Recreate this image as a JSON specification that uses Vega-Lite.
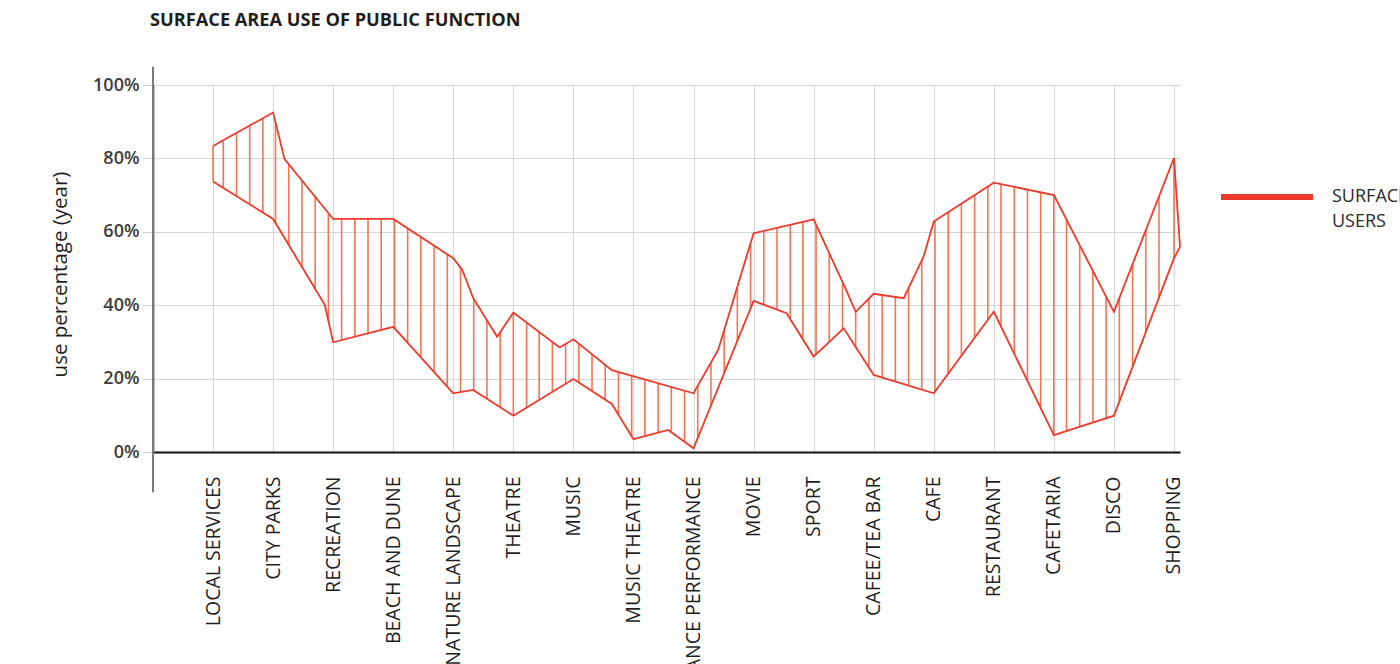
{
  "$schema": "https://vega.github.io/schema/vega-lite/v6.json",
  "autosize": "none",
  "width": 1027,
  "height": 367,
  "padding": {"left": 153, "top": 85, "right": 220, "bottom": 212},
  "background": "white",
  "config": {
    "view": {"stroke": null},
    "font": "Open Sans"
  },
  "title": {
    "text": "SURFACE AREA USE OF PUBLIC FUNCTION",
    "anchor": "start",
    "frame": "group",
    "offset": 35,
    "dx": -3,
    "font": "Open Sans",
    "fontSize": 18.2,
    "fontWeight": "bold",
    "color": "#1e1e1e"
  },
  "datasets": {
    "lines": [
      {"series": "SURFACE AREA", "pos": 0, "pct": 83.4},
      {"series": "SURFACE AREA", "pos": 1, "pct": 92.5},
      {"series": "SURFACE AREA", "pos": 1.19, "pct": 79.8},
      {"series": "SURFACE AREA", "pos": 2, "pct": 63.5},
      {"series": "SURFACE AREA", "pos": 3, "pct": 63.5},
      {"series": "SURFACE AREA", "pos": 4, "pct": 52.8},
      {"series": "SURFACE AREA", "pos": 4.15, "pct": 49.6},
      {"series": "SURFACE AREA", "pos": 4.33, "pct": 42.0},
      {"series": "SURFACE AREA", "pos": 4.73, "pct": 31.4},
      {"series": "SURFACE AREA", "pos": 5, "pct": 38.0},
      {"series": "SURFACE AREA", "pos": 5.77, "pct": 28.5},
      {"series": "SURFACE AREA", "pos": 6, "pct": 30.7},
      {"series": "SURFACE AREA", "pos": 6.64, "pct": 22.3},
      {"series": "SURFACE AREA", "pos": 8, "pct": 16.0},
      {"series": "SURFACE AREA", "pos": 8.41, "pct": 27.8},
      {"series": "SURFACE AREA", "pos": 9, "pct": 59.6},
      {"series": "SURFACE AREA", "pos": 10, "pct": 63.4},
      {"series": "SURFACE AREA", "pos": 10.52, "pct": 44.9},
      {"series": "SURFACE AREA", "pos": 10.7, "pct": 38.2},
      {"series": "SURFACE AREA", "pos": 11, "pct": 43.1},
      {"series": "SURFACE AREA", "pos": 11.5, "pct": 41.9},
      {"series": "SURFACE AREA", "pos": 11.83, "pct": 53.2},
      {"series": "SURFACE AREA", "pos": 12, "pct": 62.8},
      {"series": "SURFACE AREA", "pos": 13, "pct": 73.4},
      {"series": "SURFACE AREA", "pos": 14, "pct": 70.0},
      {"series": "SURFACE AREA", "pos": 15, "pct": 38.2},
      {"series": "SURFACE AREA", "pos": 16, "pct": 80.1},
      {"series": "SURFACE AREA", "pos": 16.1, "pct": 55.9},
      {"series": "USERS", "pos": 0, "pct": 73.7},
      {"series": "USERS", "pos": 1, "pct": 63.5},
      {"series": "USERS", "pos": 1.86, "pct": 40.1},
      {"series": "USERS", "pos": 2, "pct": 29.9},
      {"series": "USERS", "pos": 3, "pct": 34.1},
      {"series": "USERS", "pos": 4, "pct": 16.0},
      {"series": "USERS", "pos": 4.33, "pct": 16.9},
      {"series": "USERS", "pos": 5, "pct": 9.9},
      {"series": "USERS", "pos": 6, "pct": 19.9},
      {"series": "USERS", "pos": 6.64, "pct": 13.1},
      {"series": "USERS", "pos": 7, "pct": 3.5},
      {"series": "USERS", "pos": 7.58, "pct": 6.0},
      {"series": "USERS", "pos": 8, "pct": 1.0},
      {"series": "USERS", "pos": 9, "pct": 41.2},
      {"series": "USERS", "pos": 9.55, "pct": 37.8},
      {"series": "USERS", "pos": 10, "pct": 26.0},
      {"series": "USERS", "pos": 10.5, "pct": 33.7},
      {"series": "USERS", "pos": 11, "pct": 21.0},
      {"series": "USERS", "pos": 12, "pct": 16.0},
      {"series": "USERS", "pos": 13, "pct": 38.2},
      {"series": "USERS", "pos": 14, "pct": 4.6},
      {"series": "USERS", "pos": 15, "pct": 9.9},
      {"series": "USERS", "pos": 16, "pct": 52.8},
      {"series": "USERS", "pos": 16.1, "pct": 55.9}
    ],
    "hatch": [
      {"pos": 0, "pct": 73.7, "pct2": 83.4},
      {"pos": 0.17, "pct": 72.0, "pct2": 84.9},
      {"pos": 0.39, "pct": 69.8, "pct2": 86.9},
      {"pos": 0.61, "pct": 67.5, "pct2": 88.9},
      {"pos": 0.83, "pct": 65.3, "pct2": 90.9},
      {"pos": 1.04, "pct": 62.3, "pct2": 89.5},
      {"pos": 1.26, "pct": 56.3, "pct2": 78.3},
      {"pos": 1.48, "pct": 50.3, "pct2": 73.9},
      {"pos": 1.70, "pct": 44.4, "pct2": 69.5},
      {"pos": 1.92, "pct": 35.5, "pct2": 65.1},
      {"pos": 2.14, "pct": 30.5, "pct2": 63.5},
      {"pos": 2.36, "pct": 31.4, "pct2": 63.5},
      {"pos": 2.58, "pct": 32.3, "pct2": 63.5},
      {"pos": 2.80, "pct": 33.3, "pct2": 63.5},
      {"pos": 3.02, "pct": 33.7, "pct2": 63.3},
      {"pos": 3.24, "pct": 29.8, "pct2": 60.9},
      {"pos": 3.46, "pct": 25.8, "pct2": 58.6},
      {"pos": 3.68, "pct": 21.8, "pct2": 56.2},
      {"pos": 3.90, "pct": 17.8, "pct2": 53.9},
      {"pos": 4.12, "pct": 16.3, "pct2": 50.3},
      {"pos": 4.34, "pct": 16.8, "pct2": 41.8},
      {"pos": 4.56, "pct": 14.5, "pct2": 36.0},
      {"pos": 4.78, "pct": 12.2, "pct2": 32.5},
      {"pos": 5.00, "pct": 9.9, "pct2": 37.9},
      {"pos": 5.22, "pct": 12.1, "pct2": 35.3},
      {"pos": 5.43, "pct": 14.2, "pct2": 32.6},
      {"pos": 5.65, "pct": 16.4, "pct2": 29.9},
      {"pos": 5.87, "pct": 18.6, "pct2": 29.5},
      {"pos": 6.09, "pct": 18.9, "pct2": 29.5},
      {"pos": 6.31, "pct": 16.6, "pct2": 26.6},
      {"pos": 6.53, "pct": 14.3, "pct2": 23.7},
      {"pos": 6.75, "pct": 10.1, "pct2": 21.8},
      {"pos": 6.97, "pct": 4.3, "pct2": 20.8},
      {"pos": 7.19, "pct": 4.3, "pct2": 19.7},
      {"pos": 7.41, "pct": 5.3, "pct2": 18.7},
      {"pos": 7.63, "pct": 5.4, "pct2": 17.7},
      {"pos": 7.85, "pct": 2.8, "pct2": 16.7},
      {"pos": 8.07, "pct": 3.8, "pct2": 18.0},
      {"pos": 8.29, "pct": 12.6, "pct2": 24.3},
      {"pos": 8.51, "pct": 21.4, "pct2": 33.1},
      {"pos": 8.73, "pct": 30.2, "pct2": 44.9},
      {"pos": 8.95, "pct": 39.1, "pct2": 56.7},
      {"pos": 9.17, "pct": 40.2, "pct2": 60.2},
      {"pos": 9.39, "pct": 38.8, "pct2": 61.1},
      {"pos": 9.61, "pct": 36.4, "pct2": 61.9},
      {"pos": 9.82, "pct": 30.6, "pct2": 62.7},
      {"pos": 10.04, "pct": 26.7, "pct2": 61.8},
      {"pos": 10.26, "pct": 30.1, "pct2": 54.0},
      {"pos": 10.48, "pct": 33.4, "pct2": 46.2},
      {"pos": 10.70, "pct": 28.5, "pct2": 38.2},
      {"pos": 10.92, "pct": 23.0, "pct2": 41.8},
      {"pos": 11.14, "pct": 20.3, "pct2": 42.8},
      {"pos": 11.36, "pct": 19.2, "pct2": 42.2},
      {"pos": 11.58, "pct": 18.1, "pct2": 44.7},
      {"pos": 11.80, "pct": 17.0, "pct2": 52.2},
      {"pos": 12.02, "pct": 16.4, "pct2": 63.0},
      {"pos": 12.24, "pct": 21.3, "pct2": 65.3},
      {"pos": 12.46, "pct": 26.2, "pct2": 67.7},
      {"pos": 12.68, "pct": 31.1, "pct2": 70.0},
      {"pos": 12.90, "pct": 35.9, "pct2": 72.3},
      {"pos": 13.12, "pct": 34.3, "pct2": 73.0},
      {"pos": 13.34, "pct": 26.9, "pct2": 72.3},
      {"pos": 13.56, "pct": 19.5, "pct2": 71.5},
      {"pos": 13.78, "pct": 12.1, "pct2": 70.8},
      {"pos": 14.00, "pct": 4.8, "pct2": 70.0},
      {"pos": 14.21, "pct": 5.7, "pct2": 63.2},
      {"pos": 14.43, "pct": 6.9, "pct2": 56.2},
      {"pos": 14.65, "pct": 8.1, "pct2": 49.2},
      {"pos": 14.87, "pct": 9.2, "pct2": 42.2},
      {"pos": 15.09, "pct": 13.9, "pct2": 42.1},
      {"pos": 15.31, "pct": 23.3, "pct2": 51.3},
      {"pos": 15.53, "pct": 32.7, "pct2": 60.5},
      {"pos": 15.75, "pct": 42.1, "pct2": 69.7},
      {"pos": 16, "pct": 52.8, "pct2": 80.1}
    ]
  },
  "layer": [
    {
      "data": {"name": "hatch"},
      "mark": {"type": "rule", "color": "#f47456", "strokeWidth": 1.6},
      "encoding": {
        "x": {
          "field": "pos",
          "type": "quantitative",
          "scale": {"domain": [-1, 16.1], "nice": false, "zero": false},
          "axis": {
            "title": null,
            "values": [0, 1, 2, 3, 4, 5, 6, 7, 8, 9, 10, 11, 12, 13, 14, 15, 16],
            "labelExpr": "['LOCAL  SERVICES', 'CITY PARKS', 'RECREATION', 'BEACH AND DUNE', 'NATURE LANDSCAPE', 'THEATRE', 'MUSIC', 'MUSIC THEATRE', 'DANCE PERFORMANCE', 'MOVIE', 'SPORT', 'CAFEE/TEA BAR', 'CAFE', 'RESTAURANT', 'CAFETARIA', 'DISCO', 'SHOPPING'][datum.value]",
            "labelAngle": -90,
            "labelAlign": "right",
            "labelBaseline": "middle",
            "labelPadding": 24,
            "labelFont": "Open Sans",
            "labelFontSize": 19.5,
            "labelColor": "#1e1e1e",
            "labelOverlap": false,
            "labelFlush": false,
            "labelBound": false,
            "labelLimit": 400,
            "ticks": false,
            "tickSize": 0,
            "domain": true,
            "domainColor": "#111111",
            "domainWidth": 2,
            "grid": true,
            "gridColor": "#d6d6d6",
            "gridWidth": 1
          }
        },
        "y": {
          "field": "pct",
          "type": "quantitative",
          "scale": {"domain": [0, 100], "nice": false, "zero": false},
          "axis": {
            "title": "use percentage (year)",
            "titleFont": "Open Sans",
            "titleFontSize": 20.5,
            "titleFontWeight": 500,
            "titleColor": "#1e1e1e",
            "titlePadding": 22,
            "titleY": 189,
            "values": [0, 10, 20, 30, 40, 50, 60, 70, 80, 90, 100],
            "labelExpr": "datum.value % 20 === 0 ? datum.value + '%' : ''",
            "labelFont": "Open Sans",
            "labelFontSize": 18,
            "labelFontWeight": 600,
            "labelColor": "#3c3c3c",
            "labelPadding": 3,
            "ticks": true,
            "tickSize": 11,
            "tickColor": "#cfcfcf",
            "domain": true,
            "domainColor": "#7a7a7a",
            "domainWidth": 2,
            "grid": true,
            "gridColor": "#d6d6d6",
            "gridWidth": 1
          }
        },
        "y2": {"field": "pct2"}
      }
    },
    {
      "data": {"name": "lines"},
      "mark": {"type": "line", "strokeWidth": 1.8},
      "encoding": {
        "x": {"field": "pos", "type": "quantitative"},
        "y": {"field": "pct", "type": "quantitative"},
        "color": {
          "field": "series",
          "type": "nominal",
          "scale": {"domain": ["SURFACE AREA", "USERS"], "range": ["#ee3a2a", "#ee3a2a"]},
          "legend": {
            "title": null,
            "orient": "none",
            "legendX": 1065,
            "legendY": 63,
            "symbolType": "stroke",
            "symbolSize": 8464,
            "symbolStrokeWidth": 6,
            "labelFont": "Open Sans",
            "labelFontSize": 18,
            "labelColor": "#2a2a2a",
            "labelOffset": 16,
            "rowPadding": -37,
            "encode": {
              "symbols": {"update": {"opacity": {"signal": "datum.value === 'USERS' ? 0 : 1"}}},
              "labels": {"update": {"dy": {"signal": "datum.value === 'USERS' ? -36 : 0"}}}
            }
          }
        }
      }
    },
    {
      "data": {"values": [{}]},
      "mark": {"type": "rule", "color": "#7a7a7a", "strokeWidth": 2},
      "encoding": {
        "x": {"datum": -1, "type": "quantitative"},
        "y": {"datum": -11, "type": "quantitative"},
        "y2": {"datum": 105}
      }
    }
  ]
}
